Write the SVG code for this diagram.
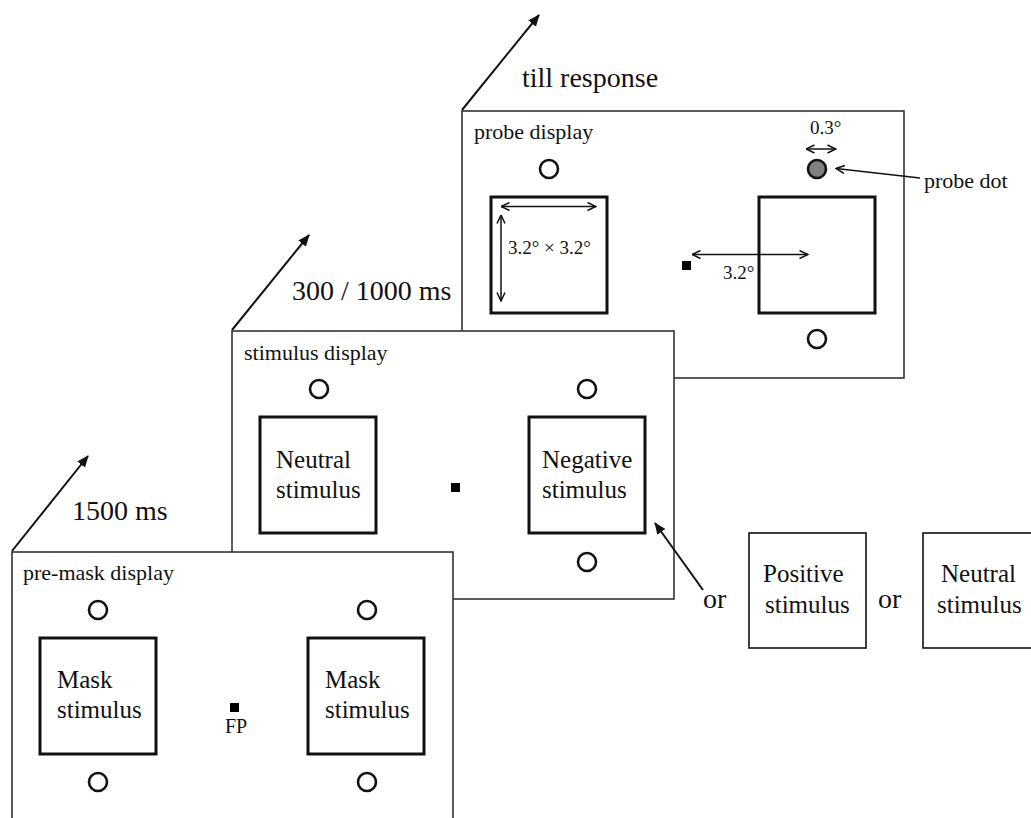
<svg xmlns="http://www.w3.org/2000/svg" width="1031" height="818" viewBox="0 0 1031 818">
  <defs>
    <style>
      text { font-family: "Liberation Serif", "Times New Roman", serif; fill: #111; }
      .frame { fill: #fff; stroke: #333; stroke-width: 1.6; }
      .sq { fill: #fff; stroke: #111; stroke-width: 3; }
      .sq2 { fill: #fff; stroke: #111; stroke-width: 1.6; }
      .ring { fill: #fff; stroke: #111; stroke-width: 2.6; }
      .dot { fill: #000; }
      .lbl { font-size: 22px; }
      .big { font-size: 28px; }
      .in { font-size: 25px; }
      .dim { font-size: 19px; }
      .arr { stroke: #111; stroke-width: 2; fill: none; }
      .dline { stroke: #111; stroke-width: 1.5; fill: none; }
    </style>
    <marker id="head" viewBox="0 0 12 10" refX="11" refY="5" markerWidth="12" markerHeight="10" markerUnits="userSpaceOnUse" orient="auto">
      <path d="M0,0 L12,5 L0,10 Z" fill="#111"/>
    </marker>
    <marker id="open" viewBox="0 0 10 10" refX="9.5" refY="5" markerWidth="10" markerHeight="10" markerUnits="userSpaceOnUse" orient="auto-start-reverse">
      <path d="M1,1 L9.5,5 L1,9" fill="none" stroke="#111" stroke-width="1.5"/>
    </marker>
  </defs>

  <!-- probe display -->
  <g id="probe-display" transform="translate(462,111)">
    <rect class="frame" x="0" y="0" width="442" height="267"/>
    <text class="lbl" x="12" y="28">probe display</text>
    <circle class="ring" cx="87" cy="58" r="9"/>
    <circle cx="355" cy="58" r="9" fill="#808080" stroke="#111" stroke-width="2.6"/>
    <rect class="sq" x="29" y="86" width="116" height="116"/>
    <rect class="sq" x="297" y="86" width="116" height="116"/>
    <rect class="dot" x="220" y="150" width="9" height="9"/>
    <circle class="ring" cx="355" cy="228" r="9"/>
    <line class="dline" x1="39" y1="95.5" x2="134" y2="95.5" marker-start="url(#open)" marker-end="url(#open)"/>
    <line class="dline" x1="39" y1="104" x2="39" y2="190" marker-start="url(#open)" marker-end="url(#open)"/>
    <text class="dim" x="46" y="143">3.2° × 3.2°</text>
    <line class="dline" x1="230" y1="143.5" x2="346" y2="143.5" marker-start="url(#open)" marker-end="url(#open)"/>
    <text class="dim" x="261" y="168">3.2°</text>
    <text class="dim" x="348" y="23">0.3°</text>
    <line class="dline" x1="344" y1="38" x2="374" y2="38" marker-start="url(#open)" marker-end="url(#open)"/>
  </g>

  <!-- stimulus display -->
  <g id="stimulus-display" transform="translate(232,331)">
    <rect class="frame" x="0" y="0" width="442" height="268"/>
    <text class="lbl" x="12" y="29">stimulus display</text>
    <circle class="ring" cx="87" cy="58" r="9"/>
    <circle class="ring" cx="355" cy="58" r="9"/>
    <rect class="sq" x="28" y="86" width="116" height="116"/>
    <rect class="sq" x="297" y="86" width="116" height="116"/>
    <text class="in" x="44" y="137">Neutral</text>
    <text class="in" x="44" y="167">stimulus</text>
    <text class="in" x="310" y="137">Negative</text>
    <text class="in" x="310" y="167">stimulus</text>
    <rect class="dot" x="219" y="152" width="9" height="9"/>
    <circle class="ring" cx="355" cy="231" r="9"/>
  </g>

  <!-- pre-mask display -->
  <g id="premask-display" transform="translate(12,552)">
    <rect class="frame" x="0" y="0" width="441" height="280"/>
    <text class="lbl" x="11" y="28">pre-mask display</text>
    <circle class="ring" cx="86" cy="58" r="9"/>
    <circle class="ring" cx="355" cy="58" r="9"/>
    <rect class="sq" x="28" y="86" width="116" height="116"/>
    <rect class="sq" x="296" y="86" width="116" height="116"/>
    <text class="in" x="45" y="136">Mask</text>
    <text class="in" x="45" y="166">stimulus</text>
    <text class="in" x="313" y="136">Mask</text>
    <text class="in" x="313" y="166">stimulus</text>
    <rect class="dot" x="218" y="151" width="9" height="9"/>
    <text class="lbl" x="213" y="181" style="font-size:20px">FP</text>
    <circle class="ring" cx="86" cy="230" r="9"/>
    <circle class="ring" cx="355" cy="230" r="9"/>
  </g>

  <!-- alternatives -->
  <g id="positive-stimulus">
    <rect class="sq2" x="749" y="533" width="117" height="115"/>
    <text class="in" x="763" y="582">Positive</text>
    <text class="in" x="765" y="613">stimulus</text>
  </g>
  <g id="neutral-stimulus-alt">
    <rect class="sq2" x="923" y="533" width="117" height="115"/>
    <text class="in" x="941" y="582">Neutral</text>
    <text class="in" x="937" y="613">stimulus</text>
  </g>

  <!-- labels -->
  <g id="labels">
    <text class="big" x="522" y="87">till response</text>
    <text class="big" x="292" y="300">300 / 1000 ms</text>
    <text class="big" x="72" y="520">1500 ms</text>
    <text class="big" x="703" y="608">or</text>
    <text class="big" x="878" y="608">or</text>
    <text class="lbl" x="924" y="188">probe dot</text>
  </g>

  <!-- connectors -->
  <g id="connectors">
    <line class="arr" x1="462" y1="110" x2="539" y2="15" marker-end="url(#head)"/>
    <line class="arr" x1="232" y1="330" x2="309" y2="235" marker-end="url(#head)"/>
    <line class="arr" x1="12" y1="551" x2="88" y2="456" marker-end="url(#head)"/>
    <line class="arr" x1="703" y1="590" x2="655" y2="523" marker-end="url(#head)"/>
    <line class="dline" x1="920" y1="178" x2="836" y2="168.5" marker-end="url(#open)"/>
  </g>
</svg>
